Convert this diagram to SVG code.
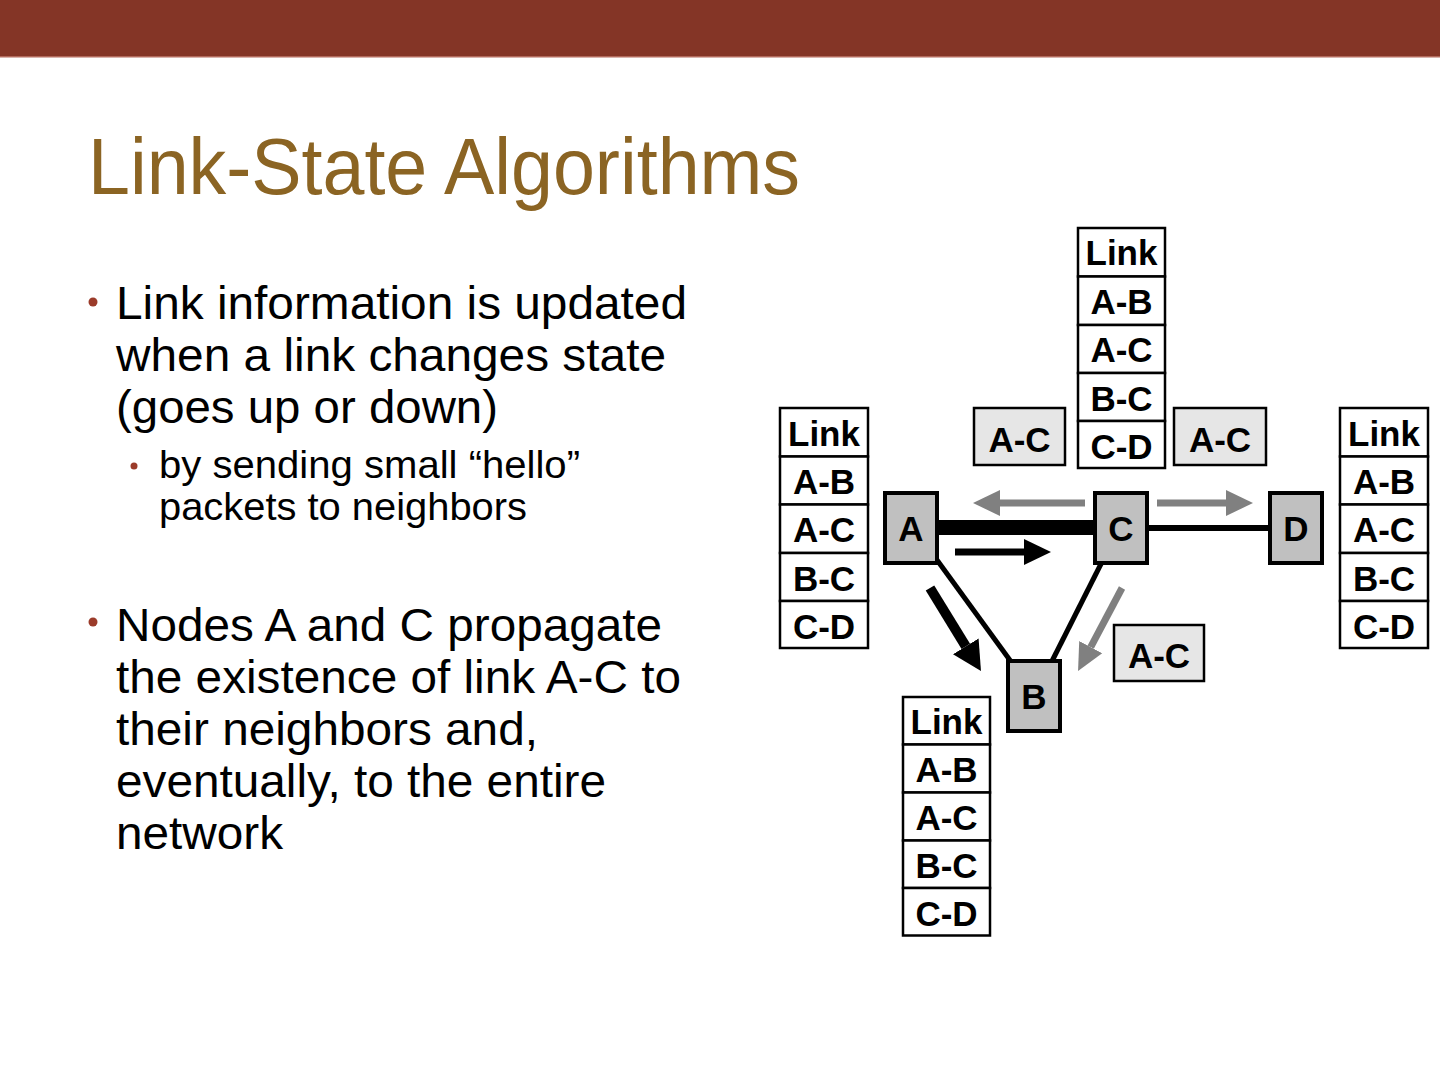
<svg xmlns="http://www.w3.org/2000/svg" width="1440" height="1080" viewBox="0 0 1440 1080">
<style>
.body{font-family:"Liberation Sans",Arial,sans-serif;fill:#000}
.b1{font-size:46px}
.b2{font-size:39px}
.tb{font-family:"Liberation Sans",Arial,sans-serif;font-weight:bold;font-size:35px;text-anchor:middle;fill:#000}
.cell{fill:#fff;stroke:#000;stroke-width:2.5}
.msg{fill:#e6e6e6;stroke:#000;stroke-width:2.5}
.node{fill:#c0c0c0;stroke:#000;stroke-width:4}
.dot{fill:#9b3b2a}
</style>
<defs>
<marker id="hg" markerUnits="userSpaceOnUse" markerWidth="28" markerHeight="28" viewBox="0 0 28 28" refX="0" refY="14" orient="auto">
<path d="M0,1 L27,14 L0,27 Z" fill="#808080"/>
</marker>
<marker id="hb" markerUnits="userSpaceOnUse" markerWidth="28" markerHeight="28" viewBox="0 0 28 28" refX="0" refY="14" orient="auto">
<path d="M0,1 L27,14 L0,27 Z" fill="#000"/>
</marker>
<marker id="hb2" markerUnits="userSpaceOnUse" markerWidth="32" markerHeight="32" viewBox="0 0 32 32" refX="0" refY="16" orient="auto">
<path d="M0,1 L29,16 L0,31 Z" fill="#000"/>
</marker>
</defs>
<rect width="1440" height="1080" fill="#fff"/>
<rect x="0" y="0" width="1440" height="57" fill="#843526"/>
<rect x="0" y="56" width="1440" height="1.5" fill="#b36a5c"/>
<text x="88" y="194" font-family="'Liberation Sans',Arial,sans-serif" font-size="80" fill="#8b6423" textLength="712" lengthAdjust="spacingAndGlyphs">Link-State Algorithms</text>

<g id="bullets">
<circle class="dot" cx="93" cy="302" r="4.5"/>
<text class="body b1" x="116" y="319" textLength="571" lengthAdjust="spacingAndGlyphs">Link information is updated</text>
<text class="body b1" x="116" y="371" textLength="550" lengthAdjust="spacingAndGlyphs">when a link changes state</text>
<text class="body b1" x="116" y="423" textLength="382" lengthAdjust="spacingAndGlyphs">(goes up or down)</text>
<circle class="dot" cx="134" cy="466" r="3.5"/>
<text class="body b2" x="159" y="478" textLength="421" lengthAdjust="spacingAndGlyphs">by sending small “hello”</text>
<text class="body b2" x="159" y="520" textLength="368" lengthAdjust="spacingAndGlyphs">packets to neighbors</text>
<circle class="dot" cx="93" cy="622" r="4.5"/>
<text class="body b1" x="116" y="641" textLength="546" lengthAdjust="spacingAndGlyphs">Nodes A and C propagate</text>
<text class="body b1" x="116" y="693" textLength="565" lengthAdjust="spacingAndGlyphs">the existence of link A-C to</text>
<text class="body b1" x="116" y="745" textLength="422" lengthAdjust="spacingAndGlyphs">their neighbors and,</text>
<text class="body b1" x="116" y="797" textLength="490" lengthAdjust="spacingAndGlyphs">eventually, to the entire</text>
<text class="body b1" x="116" y="849" textLength="167" lengthAdjust="spacingAndGlyphs">network</text>
</g>

<g id="connectors">
<line x1="939" y1="527.5" x2="1093" y2="527.5" stroke="#000" stroke-width="15"/>
<line x1="1149" y1="528" x2="1268" y2="528" stroke="#000" stroke-width="6"/>
<line x1="925" y1="543.5" x2="1020" y2="674" stroke="#000" stroke-width="5"/>
<line x1="1110" y1="546" x2="1046" y2="673" stroke="#000" stroke-width="5"/>
<line x1="1085" y1="503" x2="1000" y2="503" stroke="#808080" stroke-width="7" marker-end="url(#hg)"/>
<line x1="1157" y1="503" x2="1226" y2="503" stroke="#808080" stroke-width="7" marker-end="url(#hg)"/>
<line x1="955" y1="552" x2="1024" y2="552" stroke="#000" stroke-width="7" marker-end="url(#hb)"/>
<line x1="930" y1="588" x2="965.8" y2="646.3" stroke="#000" stroke-width="10" marker-end="url(#hb2)"/>
<line x1="1122" y1="588" x2="1090.7" y2="647.1" stroke="#808080" stroke-width="7" marker-end="url(#hg)"/>
</g>

<g id="node-A">
<rect class="node" x="885" y="493" width="52" height="70"/>
<text class="tb" x="911" y="541">A</text>
</g>
<g id="node-C">
<rect class="node" x="1095" y="493" width="52" height="70"/>
<text class="tb" x="1121" y="541">C</text>
</g>
<g id="node-D">
<rect class="node" x="1270" y="493" width="52" height="70"/>
<text class="tb" x="1296" y="541">D</text>
</g>
<g id="node-B">
<rect class="node" x="1008" y="661" width="52" height="70"/>
<text class="tb" x="1034" y="709">B</text>
</g>

<g id="msg-left">
<rect class="msg" x="974" y="408" width="91" height="57"/>
<text class="tb" x="1019.5" y="452">A-C</text>
</g>
<g id="msg-right">
<rect class="msg" x="1174" y="408" width="92" height="57"/>
<text class="tb" x="1220" y="452">A-C</text>
</g>
<g id="msg-bottom">
<rect class="msg" x="1114" y="625" width="90" height="56"/>
<text class="tb" x="1159" y="668">A-C</text>
</g>

<g id="table-C">
<rect class="cell" x="1078" y="228" width="87" height="48.5"/>
<rect class="cell" x="1078" y="276.5" width="87" height="48.5"/>
<rect class="cell" x="1078" y="325" width="87" height="48"/>
<rect class="cell" x="1078" y="373" width="87" height="48"/>
<rect class="cell" x="1078" y="421" width="87" height="47"/>
<text class="tb" x="1121.5" y="265">Link</text>
<text class="tb" x="1121.5" y="314">A-B</text>
<text class="tb" x="1121.5" y="362">A-C</text>
<text class="tb" x="1121.5" y="411">B-C</text>
<text class="tb" x="1121.5" y="459">C-D</text>
</g>
<g id="table-A">
<rect class="cell" x="780" y="408" width="88" height="48.5"/>
<rect class="cell" x="780" y="456.5" width="88" height="48"/>
<rect class="cell" x="780" y="504.5" width="88" height="48.5"/>
<rect class="cell" x="780" y="553" width="88" height="48"/>
<rect class="cell" x="780" y="601" width="88" height="47"/>
<text class="tb" x="824" y="446">Link</text>
<text class="tb" x="824" y="494">A-B</text>
<text class="tb" x="824" y="542">A-C</text>
<text class="tb" x="824" y="591">B-C</text>
<text class="tb" x="824" y="639">C-D</text>
</g>
<g id="table-D">
<rect class="cell" x="1340" y="408" width="88" height="48.5"/>
<rect class="cell" x="1340" y="456.5" width="88" height="48"/>
<rect class="cell" x="1340" y="504.5" width="88" height="48.5"/>
<rect class="cell" x="1340" y="553" width="88" height="48"/>
<rect class="cell" x="1340" y="601" width="88" height="47"/>
<text class="tb" x="1384" y="446">Link</text>
<text class="tb" x="1384" y="494">A-B</text>
<text class="tb" x="1384" y="542">A-C</text>
<text class="tb" x="1384" y="591">B-C</text>
<text class="tb" x="1384" y="639">C-D</text>
</g>
<g id="table-B">
<rect class="cell" x="903" y="697" width="87" height="47.5"/>
<rect class="cell" x="903" y="744.5" width="87" height="48"/>
<rect class="cell" x="903" y="792.5" width="87" height="48"/>
<rect class="cell" x="903" y="840.5" width="87" height="47.5"/>
<rect class="cell" x="903" y="888" width="87" height="47.5"/>
<text class="tb" x="946.5" y="734">Link</text>
<text class="tb" x="946.5" y="782">A-B</text>
<text class="tb" x="946.5" y="830">A-C</text>
<text class="tb" x="946.5" y="878">B-C</text>
<text class="tb" x="946.5" y="926">C-D</text>
</g>
</svg>
